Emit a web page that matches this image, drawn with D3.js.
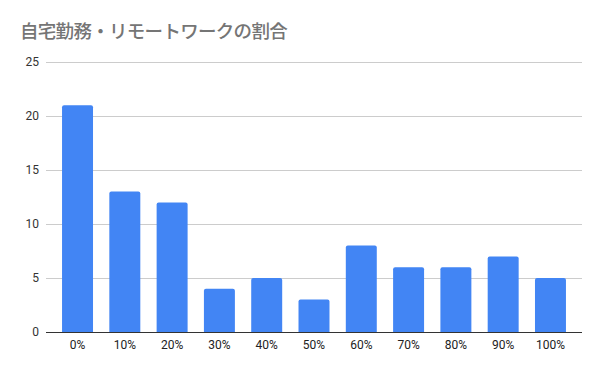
<!DOCTYPE html>
<html>
<head>
<meta charset="utf-8">
<script src="https://cdn.jsdelivr.net/npm/d3@7"></script>
<style>
  body { margin: 0; background: #fff; }
  svg { display: block; font-family: Roboto, "Noto Sans CJK JP", sans-serif; }
</style>
</head>
<body>
<div id="chart"></div>
<script>
const title = '自宅勤務・リモートワークの割合';
const categories = ['0%', '10%', '20%', '30%', '40%', '50%', '60%', '70%', '80%', '90%', '100%'];
const counts = [21, 13, 12, 4, 5, 3, 8, 6, 6, 7, 5];
const yTicks = [0, 5, 10, 15, 20, 25];

const width = 600, height = 371;
const plot = {left: 46, right: 582, top: 62, bottom: 332};

const svg = d3.select('#chart').append('svg')
    .attr('width', width)
    .attr('height', height);

svg.append('rect').attr('width', width).attr('height', height).attr('fill', '#fff');

svg.append('text')
    .attr('x', 20)
    .attr('y', 38)
    .attr('fill', '#757575')
    .style('font-family', '"Noto Sans CJK JP", sans-serif')
    .style('font-size', '18.5px')
    .style('font-weight', 500)
    .style('letter-spacing', '-0.7px')
    .text(title);

const x = d3.scaleBand()
    .domain(categories)
    .range([54, 574])
    .paddingInner(0.345)
    .paddingOuter(0.17);

const y = d3.scaleLinear()
    .domain([0, 25])
    .range([plot.bottom, plot.top]);

// gridlines
svg.append('g')
    .selectAll('line')
    .data(yTicks.filter(d => d > 0))
    .enter().append('line')
    .attr('x1', plot.left)
    .attr('x2', plot.right)
    .attr('y1', d => Math.round(y(d)) + 0.5)
    .attr('y2', d => Math.round(y(d)) + 0.5)
    .attr('stroke', '#cccccc')
    .attr('stroke-width', 1);

// y labels
svg.append('g')
    .selectAll('text')
    .data(yTicks)
    .enter().append('text')
    .attr('x', 39)
    .attr('y', d => y(d) + 4)
    .attr('text-anchor', 'end')
    .attr('fill', '#333')
    .style('font-size', '12px')
    .text(d => d);

// bars
const r = 2;
svg.append('g')
    .selectAll('path')
    .data(counts)
    .enter().append('path')
    .attr('fill', '#4285f4')
    .attr('d', (d, i) => {
        const x0 = x(categories[i]), x1 = x0 + x.bandwidth();
        const y0 = y(d), y1 = y(0);
        return `M${x0},${y1}V${y0 + r}Q${x0},${y0} ${x0 + r},${y0}H${x1 - r}Q${x1},${y0} ${x1},${y0 + r}V${y1}Z`;
    });

// baseline
svg.append('line')
    .attr('x1', plot.left)
    .attr('x2', plot.right)
    .attr('y1', plot.bottom + 0.5)
    .attr('y2', plot.bottom + 0.5)
    .attr('stroke', '#333')
    .attr('stroke-width', 1);

// x labels
svg.append('g')
    .selectAll('text')
    .data(categories)
    .enter().append('text')
    .attr('x', d => x(d) + x.bandwidth() / 2)
    .attr('y', 349)
    .attr('text-anchor', 'middle')
    .attr('fill', '#222')
    .style('font-size', '12px')
    .text(d => d);
</script>
</body>
</html>
